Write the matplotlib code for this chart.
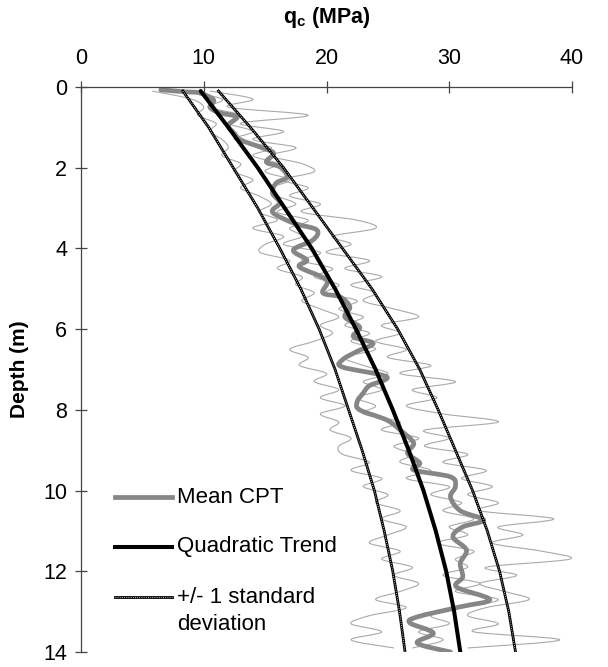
#!/usr/bin/env python3
# CPT profiles: q_c versus depth, mean, quadratic trend and +/- 1 std band

import numpy as np
import matplotlib
matplotlib.use('Agg')
import matplotlib.pyplot as plt
from matplotlib.lines import Line2D
from matplotlib.path import Path
from matplotlib.patches import PathPatch

plt.rcParams['font.family'] = ['Liberation Sans', 'DejaVu Sans']
plt.rcParams['mathtext.fontset'] = 'custom'
plt.rcParams['mathtext.bf'] = 'Liberation Sans:bold'
plt.rcParams['mathtext.rm'] = 'Liberation Sans:bold'

# depths of the individual CPT readings (m)
trace_depth = [0.1, 0.3, 0.5, 0.7, 0.9, 1.1, 1.3, 1.5, 1.7, 1.9,
               2.1, 2.3, 2.5, 2.7, 2.9, 3.1, 3.3, 3.5, 3.7, 3.9,
               4.1, 4.3, 4.5, 4.7, 4.9, 5.1, 5.3, 5.5, 5.7, 5.9,
               6.1, 6.3, 6.5, 6.7, 6.9, 7.1, 7.3, 7.5, 7.7, 7.9,
               8.1, 8.3, 8.5, 8.7, 8.9, 9.1, 9.3, 9.5, 9.7, 9.9,
               10.1, 10.3, 10.5, 10.7, 10.9, 11.1, 11.3, 11.5, 11.7, 11.9,
               12.1, 12.3, 12.5, 12.7, 12.9, 13.1, 13.3, 13.5, 13.7, 13.9]

# individual CPT soundings, q_c (MPa)
cpt_a = [10.5, 14.0, 12.0, 18.5, 13.0, 16.5, 14.0, 17.5, 15.5, 18.0,
         19.0, 16.5, 18.5, 17.0, 19.5, 18.0, 22.5, 24.0, 20.5, 22.0,
         20.0, 23.5, 21.5, 24.5, 22.0, 24.0, 23.0, 25.5, 27.5, 24.5,
         26.0, 24.0, 26.5, 25.0, 28.5, 26.0, 30.5, 27.0, 29.0, 26.5,
         29.5, 34.0, 28.0, 30.0, 28.0, 31.5, 29.5, 33.0, 31.0, 33.5,
         31.5, 34.0, 32.5, 38.5, 34.0, 36.0, 33.5, 37.5, 39.8, 33.0,
         35.5, 32.5, 34.5, 36.5, 33.0, 31.5, 34.0, 32.0, 39.0, 31.5]
cpt_b = [5.8, 9.0, 10.0, 9.5, 11.0, 10.5, 11.5, 12.0, 11.5, 13.0,
         12.5, 14.0, 13.0, 14.5, 15.5, 14.5, 16.0, 14.0, 16.5, 15.0,
         14.6, 17.0, 16.0, 18.0, 17.5, 19.0, 18.0, 19.5, 21.0, 19.5,
         20.5, 19.0, 17.0, 18.5, 17.8, 20.0, 19.0, 21.0, 19.5, 21.5,
         19.5, 21.0, 20.3, 22.0, 21.0, 21.3, 23.5, 22.0, 24.5, 23.0,
         25.0, 24.0, 26.0, 24.5, 26.5, 25.0, 23.5, 26.0, 24.5, 27.0,
         25.5, 27.5, 26.0, 24.0, 26.5, 23.5, 22.0, 24.5, 22.0, 25.5]
cpt_c = [8.5, 11.5, 10.5, 13.0, 12.0, 14.0, 12.5, 15.5, 14.0, 16.0,
         15.0, 17.0, 15.5, 16.0, 17.5, 16.0, 18.5, 17.0, 18.0, 16.5,
         19.5, 18.0, 20.5, 19.0, 21.0, 20.0, 22.5, 21.0, 23.0, 21.5,
         23.5, 22.0, 24.0, 21.5, 23.0, 25.0, 23.0, 24.5, 22.5, 24.0,
         23.0, 26.0, 24.5, 27.5, 25.5, 27.0, 26.0, 28.5, 26.5, 30.0,
         28.5, 31.0, 29.5, 32.0, 30.0, 31.5, 29.0, 32.0, 30.5, 31.5,
         29.5, 32.5, 30.5, 34.0, 31.0, 28.5, 30.0, 27.5, 29.5, 27.0]

# mean CPT profile
mean_depth = [0.07, 0.12, 0.15, 0.32, 0.5, 0.64, 0.74, 0.95, 1.15, 1.31,
              1.49, 1.64, 1.86, 1.98, 2.23, 2.38, 2.63, 2.87, 3.1, 3.37,
              3.54, 3.79, 4.04, 4.29, 4.46, 4.78, 5.1, 5.2, 5.45, 5.7,
              5.95, 6.19, 6.35, 6.55, 6.76, 6.94, 7.18, 7.4, 7.58, 7.8,
              8.0, 8.25, 8.5, 8.82, 9.07, 9.32, 9.49, 9.66, 9.9, 10.16,
              10.5, 10.73, 10.9, 11.15, 11.47, 11.8, 12.14, 12.39, 12.7, 12.88,
              13.13, 13.28, 13.53, 13.78, 14.0]
mean_qc = [6.5, 8.5, 9.7, 10.8, 10.5, 11.3, 12.7, 12.0, 12.5, 13.0,
           14.6, 15.7, 15.1, 16.2, 16.8, 15.9, 15.6, 16.2, 15.6, 17.3,
           19.2, 18.9, 17.3, 18.4, 17.8, 20.0, 19.7, 21.1, 21.9, 21.5,
           22.7, 22.2, 23.8, 22.5, 21.3, 21.3, 24.9, 23.5, 23.0, 22.5,
           22.7, 24.9, 26.0, 27.1, 26.6, 27.6, 27.1, 30.1, 30.5, 30.1,
           30.9, 32.8, 31.1, 30.3, 31.4, 30.9, 31.1, 30.6, 33.3, 30.9,
           27.4, 26.8, 28.7, 27.4, 30.1]

# quadratic trend and +/- 1 standard deviation
trend_depth = [0.1, 1, 2, 3, 4, 5, 6, 7, 8, 9, 10, 11, 12, 13, 14]
trend_qc = [9.75, 12.0, 14.4, 16.6, 18.8, 20.7, 22.4, 24.0, 25.4, 26.7,
            27.9, 28.9, 29.75, 30.4, 30.9]
lower_qc = [8.3, 10.4, 12.4, 14.4, 16.2, 17.9, 19.4, 20.7, 21.8, 22.9,
            23.9, 24.7, 25.4, 25.95, 26.4]
upper_qc = [11.2, 13.8, 16.5, 18.9, 21.3, 23.7, 25.8, 27.6, 29.1, 30.5,
            31.9, 33.1, 34.1, 34.85, 35.4]


def smooth_line(ax, xs, ys, **kw):
    # Excel style "smoothed line": cubic Bezier segments through the points
    p = np.column_stack([xs, ys]).astype(float)
    ext = np.vstack([p[0], p, p[-1]])
    verts = [p[0]]
    codes = [Path.MOVETO]
    for i in range(1, len(ext) - 2):
        c1 = ext[i] + (ext[i + 1] - ext[i - 1]) / 6.0
        c2 = ext[i + 1] - (ext[i + 2] - ext[i]) / 6.0
        verts += [c1, c2, ext[i + 1]]
        codes += [Path.CURVE4] * 3
    ax.add_patch(PathPatch(Path(verts, codes), fill=False, **kw))


W, H = 608, 667
fig = plt.figure(figsize=(W / 100, H / 100), dpi=100)
ax = fig.add_axes([81 / W, 15 / H, 491 / W, 565 / H])

thin_col = '#a9a9a9'
for trace in (cpt_a, cpt_b, cpt_c):
    smooth_line(ax, trace, trace_depth, edgecolor=thin_col, lw=0.8, zorder=1)

smooth_line(ax, mean_qc, mean_depth, edgecolor='#868686', lw=3.4,
            joinstyle='round', capstyle='round', zorder=2)

for band in (lower_qc, upper_qc):
    ax.plot(band, trend_depth, color='black', lw=2.0, zorder=3)
    ax.plot(band, trend_depth, color='white', lw=0.6, dashes=(1, 1.6), zorder=3.5)

ax.plot(trend_qc, trend_depth, color='black', lw=2.9, solid_capstyle='round', zorder=4)

ax.set_xlim(0, 40)
ax.set_ylim(14, 0)
ax.set_xticks([0, 10, 20, 30, 40])
ax.set_yticks([0, 2, 4, 6, 8, 10, 12, 14])
ax.xaxis.tick_top()
ax.xaxis.set_label_position('top')
for s in ('right', 'bottom'):
    ax.spines[s].set_visible(False)
for s in ('left', 'top'):
    ax.spines[s].set_color('#444444')
    ax.spines[s].set_linewidth(0.9)
ax.tick_params(axis='both', direction='inout', length=8, width=0.9,
               color='#444444', labelsize=15.5)
ax.tick_params(axis='x', pad=9)
ax.tick_params(axis='y', pad=6)

ax.set_xlabel(r'q$_\mathbf{c}$ (MPa)', fontsize=15.5, fontweight='bold', labelpad=18)
ax.set_ylabel('Depth (m)', fontsize=15, fontweight='bold', labelpad=10)

# legend drawn by hand so the two-line label sits like the original
tr = ax.transAxes
x0, x1, xt = 0.069, 0.185, 0.196
rows = [0.274, 0.186, 0.097]
ax.add_line(Line2D([x0, x1], [rows[0]] * 2, transform=tr, color='#868686', lw=3.4))
ax.add_line(Line2D([x0, x1], [rows[1]] * 2, transform=tr, color='black', lw=2.9))
ax.add_line(Line2D([x0, x1], [rows[2]] * 2, transform=tr, color='black', lw=2.0))
ax.add_line(Line2D([x0, x1], [rows[2]] * 2, transform=tr, color='white', lw=0.6,
                   dashes=(1, 1.6)))
ax.text(xt, rows[0], 'Mean CPT', transform=tr, va='center', fontsize=16)
ax.text(xt, rows[1], 'Quadratic Trend', transform=tr, va='center', fontsize=16)
ax.text(xt, rows[2], '+/- 1 standard', transform=tr, va='center', fontsize=16)
ax.text(xt, 0.048, 'deviation', transform=tr, va='center', fontsize=16)

fig.savefig('out.png', dpi=100)
